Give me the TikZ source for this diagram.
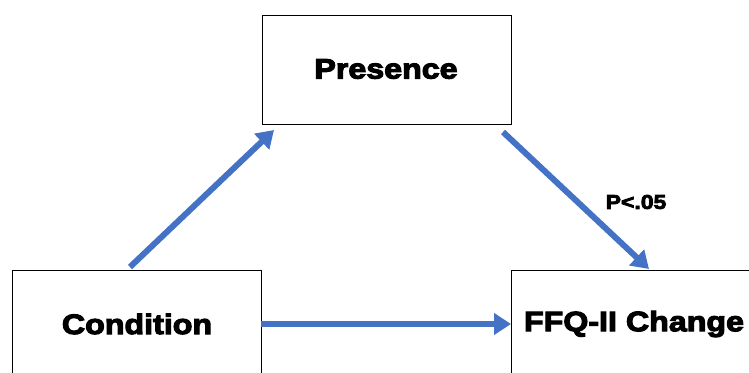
\documentclass[tikz,border=0pt]{standalone}
\usepackage{fontspec}
\setmainfont{Liberation Sans}[BoldFeatures={FakeBold=4,FakeStretch=1.15}]
\usetikzlibrary{arrows.meta}
\definecolor{arrowblue}{RGB}{68,114,196}
\tikzset{
  box/.style={draw=black, line width=1.3pt, fill=white, inner sep=0pt, anchor=north west},
  lbl/.style={font=\bfseries\fontsize{28}{31}\selectfont, inner sep=0pt},
  conn/.style={draw=arrowblue, line width=6pt, -{Triangle[length=17pt,width=21pt]}, shorten >=0pt}
}
\begin{document}
\begin{tikzpicture}[x=1pt,y=-1pt]
\useasboundingbox (0,0) rectangle (749,372);
\begin{scope}
\clip (0,0) rectangle (749,372);
\node[box, minimum width=249pt, minimum height=109pt] (pres) at (261.5,14.5) {};
\node[box, minimum width=249pt, minimum height=109pt] (cond) at (12,269.5) {};
\node[box, minimum width=250pt, minimum height=109pt] (ffq) at (511,269.5) {};
\end{scope}
\node[lbl] (tpres) at (386,69) {Presence};
\node[lbl] (tcond) at (137,324) {Condition};
\node[lbl] (tffq) at (634,324) {FFQ-II Change};
\node[lbl, font=\bfseries\fontsize{20}{22}\selectfont] (pval) at (636,202) {P<.05};
\coordinate (a1s) at (130,267);
\coordinate (a1e) at (274,130);
\coordinate (a2s) at (503,132);
\coordinate (a2e) at (649,269);
\coordinate (a3s) at (261,324);
\coordinate (a3e) at (511,324);
\draw[conn] (a1s) -- (a1e);
\draw[conn] (a2s) -- (a2e);
\draw[conn] (a3s) -- (a3e);
\end{tikzpicture}
\end{document}
